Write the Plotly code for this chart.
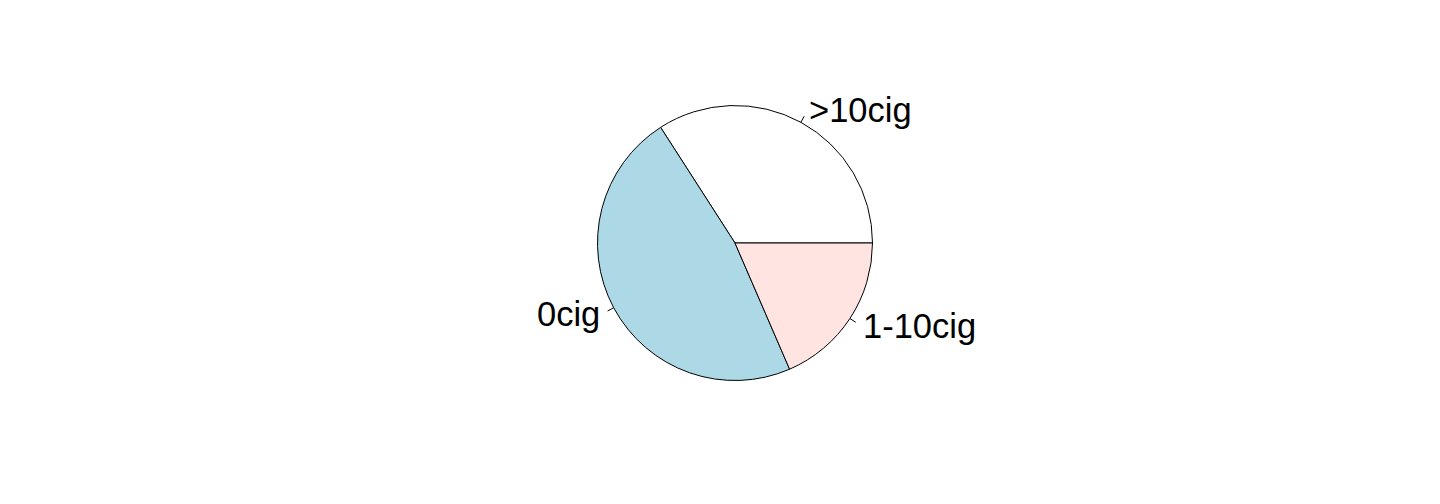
import math
import plotly.graph_objects as go

labels = [">10cig", "0cig", "1-10cig"]
values = [34.1, 47.4, 18.5]
colors = ["white", "#ADD8E6", "#FFE4E1"]

W, H = 1440, 504
OFF = 8  # page body margin
cx, cy, r = 735 - OFF, 243 - OFF, 137.5

total = sum(values)
fig = go.Figure(go.Pie(
    labels=labels, values=values, sort=False,
    direction="counterclockwise", rotation=90 - 360 * values[0] / total,
    marker=dict(colors=colors, line=dict(color="black", width=1)),
    textinfo="none", hoverinfo="label+value", showlegend=False,
    domain=dict(x=[(cx - r) / W, (cx + r) / W], y=[(H - cy - r) / H, (H - cy + r) / H]),
))

cum = 0
shapes = []
annotations = []
for lab, v in zip(labels, values):
    mid = 2 * math.pi * (cum + v / 2) / total
    cum += v
    c, s = math.cos(mid), math.sin(mid)
    x0, y0 = cx + r * c, cy - r * s
    x1, y1 = cx + 1.05 * r * c, cy - 1.05 * r * s
    shapes.append(dict(type="line", xref="paper", yref="paper",
                       x0=x0 / W, y0=1 - y0 / H, x1=x1 / W, y1=1 - y1 / H,
                       line=dict(color="black", width=1)))
    tx, ty = cx + 1.1 * r * c, cy - 1.1 * r * s
    annotations.append(dict(text=lab, xref="paper", yref="paper",
                            x=tx / W, y=1 - ty / H,
                            xanchor="left" if c > 0 else "right", yanchor="middle",
                            showarrow=False,
                            font=dict(family="Liberation Sans, Arial", size=34.5, color="black")))

fig.update_layout(width=W, height=H, margin=dict(l=0, r=0, t=0, b=0),
                  paper_bgcolor="white", plot_bgcolor="white",
                  shapes=shapes, annotations=annotations)
fig.write_html("out.html")
